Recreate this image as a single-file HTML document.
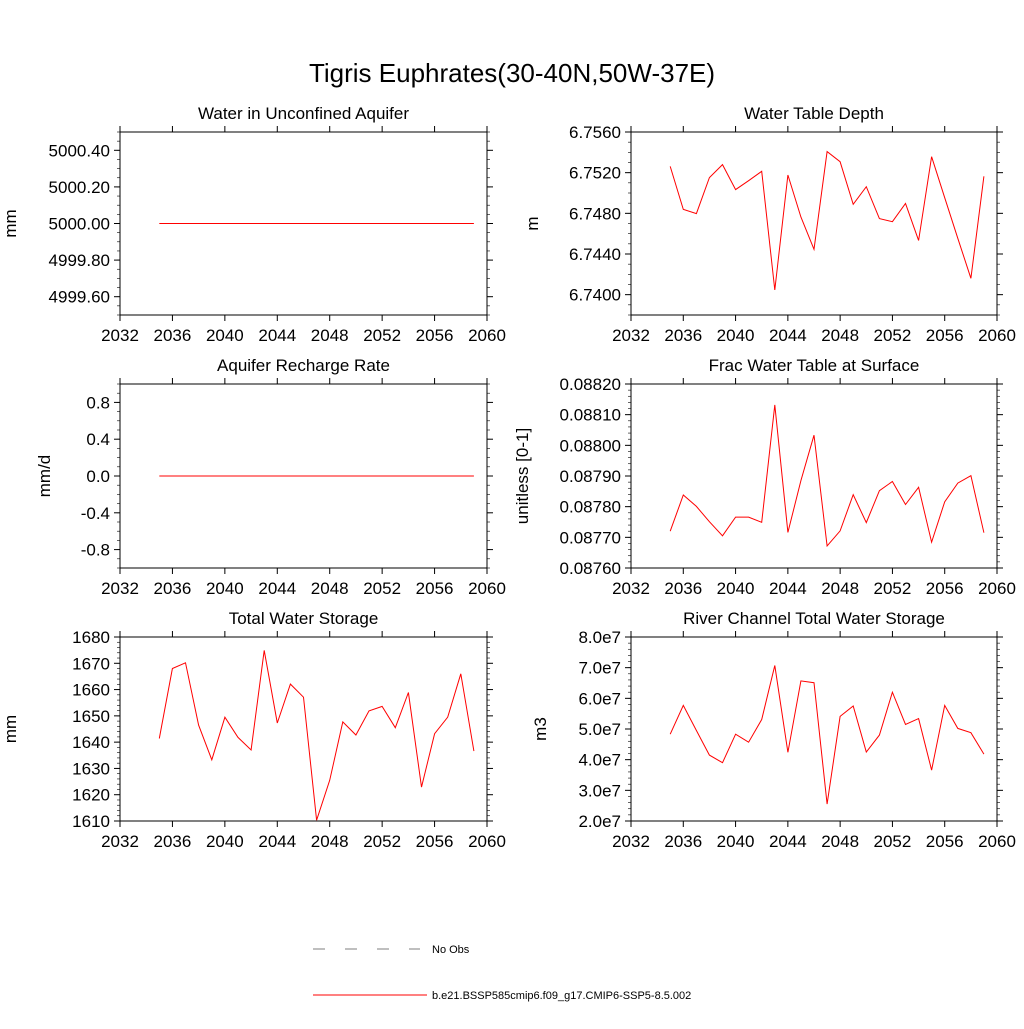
<!DOCTYPE html>
<html><head><meta charset="utf-8"><style>
body{margin:0;background:#fff;}
svg text{font-family:"Liberation Sans",sans-serif;fill:#000;}
</style></head><body>
<svg id="chart" width="1024" height="1024" viewBox="0 0 1024 1024" xmlns="http://www.w3.org/2000/svg">
<text x="512" y="82" font-size="26" text-anchor="middle">Tigris Euphrates(30-40N,50W-37E)</text>
<g>
<line x1="313" y1="949" x2="420" y2="949" stroke="#000" stroke-width="0.6" stroke-dasharray="12,20"/>
<text x="432" y="953" font-size="11">No Obs</text>
<line x1="313" y1="995" x2="427" y2="995" stroke="#f00" stroke-width="1"/>
<text x="432" y="999" font-size="11">b.e21.BSSP585cmip6.f09_g17.CMIP6-SSP5-8.5.002</text>
</g>
</svg>
<script>
const years = [2035,2036,2037,2038,2039,2040,2041,2042,2043,2044,2045,2046,2047,2048,2049,2050,2051,2052,2053,2054,2055,2056,2057,2058,2059];
const xTicks = [2032,2036,2040,2044,2048,2052,2056,2060];
const unconfined = [5000,5000,5000,5000,5000,5000,5000,5000,5000,5000,5000,5000,5000,5000,5000,5000,5000,5000,5000,5000,5000,5000,5000,5000,5000];
const recharge = [0,0,0,0,0,0,0,0,0,0,0,0,0,0,0,0,0,0,0,0,0,0,0,0,0];
const tws = [1641.4,1668.0,1670.2,1646.5,1633.3,1649.5,1641.8,1637.0,1674.9,1647.3,1662.1,1657.1,1610.3,1625.5,1647.7,1642.7,1651.9,1653.6,1645.5,1658.9,1622.9,1643.2,1649.5,1666.0,1636.6];
const wtd = [6.75262,6.74839,6.74797,6.75151,6.75279,6.75033,6.75121,6.75213,6.74046,6.75177,6.74764,6.74446,6.75407,6.75308,6.74889,6.75062,6.74748,6.74718,6.74898,6.74534,6.75357,6.74954,6.74554,6.74161,6.75164];
const frac = [0.087720,0.087838,0.087801,0.087751,0.087705,0.087766,0.087766,0.087749,0.088132,0.087716,0.087885,0.088033,0.087672,0.087721,0.087839,0.087748,0.087852,0.087882,0.087807,0.087863,0.087684,0.087816,0.087877,0.087901,0.087715];
const river = [4.83e7,5.77e7,4.95e7,4.15e7,3.90e7,4.83e7,4.57e7,5.31e7,7.07e7,4.24e7,6.57e7,6.51e7,2.55e7,5.41e7,5.75e7,4.25e7,4.80e7,6.20e7,5.15e7,5.34e7,3.66e7,5.77e7,5.02e7,4.88e7,4.18e7];
const ticksUnconf = [4999.6,4999.8,5000.0,5000.2,5000.4];
const labelsUnconf = ["4999.60","4999.80","5000.00","5000.20","5000.40"];
const ticksRecharge = [-0.8,-0.4,0,0.4,0.8];
const labelsRecharge = ["-0.8","-0.4","0.0","0.4","0.8"];
const ticksTws = [1610,1620,1630,1640,1650,1660,1670,1680];
const labelsTws = ["1610","1620","1630","1640","1650","1660","1670","1680"];
const ticksWtd = [6.740,6.744,6.748,6.752,6.756];
const labelsWtd = ["6.7400","6.7440","6.7480","6.7520","6.7560"];
const ticksFrac = [0.0876,0.0877,0.0878,0.0879,0.0880,0.0881,0.0882];
const labelsFrac = ["0.08760","0.08770","0.08780","0.08790","0.08800","0.08810","0.08820"];
const ticksRiver = [2e7,3e7,4e7,5e7,6e7,7e7,8e7];
const labelsRiver = ["2.0e7","3.0e7","4.0e7","5.0e7","6.0e7","7.0e7","8.0e7"];

const NS="http://www.w3.org/2000/svg";
const svg=document.getElementById('chart');
function mk(tag,attrs,parent){const e=document.createElementNS(NS,tag);for(const k in attrs)e.setAttribute(k,attrs[k]);parent.appendChild(e);return e;}

function panel(name,title,ylabel,x0,x1,y0,y1,ymin,ymax,yt,yl,minorN,vals,ylabX){
  const g=mk('g',{},svg);
  
  
  const sx=v=>x0+(v-2032)/(2060-2032)*(x1-x0);
  const sy=v=>y1-(v-ymin)/(ymax-ymin)*(y1-y0);
  const fr=mk('rect',{x:x0,y:y0,width:x1-x0,height:y1-y0,fill:'none',stroke:'#000','stroke-width':1},g);
  
  
  const t=mk('text',{x:(x0+x1)/2,y:y0-13,'font-size':17,'text-anchor':'middle'},g);
  t.textContent=title;
  
  
  xTicks.forEach(v=>{
    const x=sx(v);
    mk('line',{x1:x,y1:y1,x2:x,y2:y1+6,stroke:'#000'},g);
    mk('line',{x1:x,y1:y0,x2:x,y2:y0-6,stroke:'#000'},g);
    const tl=mk('text',{x:x,y:y1+26,'font-size':17,'text-anchor':'middle'},g);
    tl.textContent=v;
    
    
  });
  const step=yt[1]-yt[0];
  for(let v=yt[0]-step;v<=ymax+1e-12*Math.abs(ymax)+1e-9;v+=step/minorN){
    if(v<ymin-1e-9*Math.abs(step)*0+ -step*1e-6) continue;
    const y=sy(v); if(y<y0-0.5||y>y1+0.5) continue;
    mk('line',{x1:x0,y1:y,x2:x0-3,y2:y,stroke:'#000','stroke-width':0.6},g);
    mk('line',{x1:x1,y1:y,x2:x1+3,y2:y,stroke:'#000','stroke-width':0.6},g);
  }
  yt.forEach((v,i)=>{
    const y=sy(v);
    mk('line',{x1:x0,y1:y,x2:x0-6,y2:y,stroke:'#000'},g);
    mk('line',{x1:x1,y1:y,x2:x1+6,y2:y,stroke:'#000'},g);
    const tl=mk('text',{x:x0-10,y:y+6,'font-size':17,'text-anchor':'end'},g);
    tl.textContent=yl[i];
    
    
  });
  const yy=(y0+y1)/2;
  const at=mk('text',{x:ylabX,y:yy,'font-size':17,'text-anchor':'middle',transform:`rotate(-90 ${ylabX} ${yy})`},g);
  at.textContent=ylabel;
  
  
  const pts=vals.map((v,i)=>sx(years[i]).toFixed(1)+','+sy(v).toFixed(1)).join(' ');
  const pl=mk('polyline',{points:pts,fill:'none',stroke:'#f00','stroke-width':1},g);
  
  
}
panel('unconfined-aquifer','Water in Unconfined Aquifer','mm',120,487,132,315,4999.5,5000.5,ticksUnconf,labelsUnconf,4,unconfined,16);
panel('water-table-depth','Water Table Depth','m',631,997,132,315,6.738,6.756,ticksWtd,labelsWtd,4,wtd,538);
panel('recharge-rate','Aquifer Recharge Rate','mm/d',120,487,384,568,-1,1,ticksRecharge,labelsRecharge,4,recharge,50);
panel('frac-water-table','Frac Water Table at Surface','unitless [0-1]',631,997,384,568,0.0876,0.0882,ticksFrac,labelsFrac,5,frac,528);
panel('total-water-storage','Total Water Storage','mm',120,487,637,821,1610,1680,ticksTws,labelsTws,5,tws,16);
panel('river-storage','River Channel Total Water Storage','m3',631,997,637,821,2e7,8e7,ticksRiver,labelsRiver,5,river,546);
</script>
</body></html>
